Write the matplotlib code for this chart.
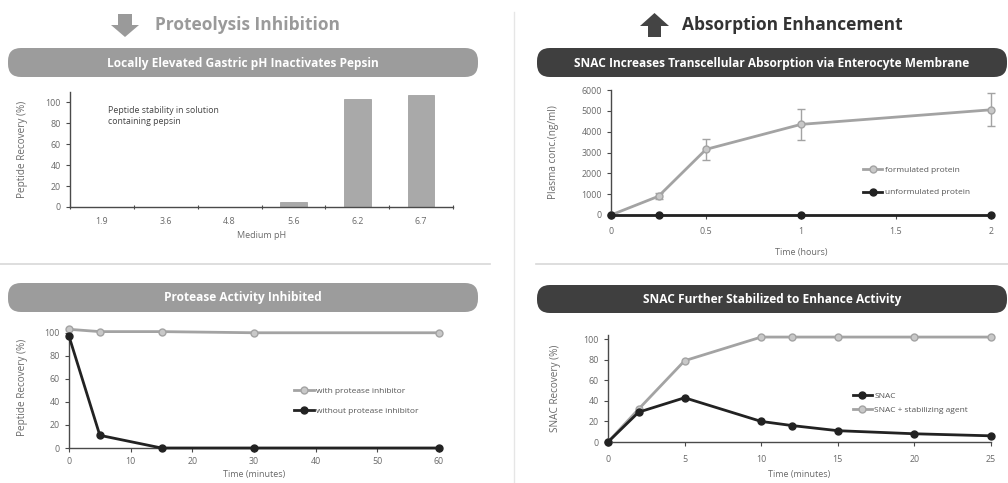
import matplotlib
matplotlib.use("Agg")
import matplotlib.pyplot as plt
from matplotlib.patches import FancyBboxPatch, Polygon
import numpy as np

plt.rcParams['font.family'] = ['Open Sans', 'DejaVu Sans']

# ---------------- data ----------------
ph_labels = ["1.9", "3.6", "4.8", "5.6", "6.2", "6.7"]
ph_recovery = [0, 0, 0, 5, 103, 107]

prot_time = [0, 5, 15, 30, 60]
with_inhib = [103, 101, 101, 100, 100]
without_inhib = [97, 11, 0, 0, 0]

abs_time = [0, 0.25, 0.5, 1, 2]
formulated = [0, 900, 3150, 4350, 5050]
formulated_err = [0, 150, 500, 750, 800]
unform_time = [0, 0.25, 1, 2]
unformulated = [0, 0, 0, 0]

snac_time = [0, 2, 5, 10, 12, 15, 20, 25]
snac = [0, 29, 43, 20, 16, 11, 8, 6]
snac_stab = [0, 32, 79, 102, 102, 102, 102, 102]

# ---------------- styling ----------------
W, H = 1008, 483
GREY = "#a3a3a3"
GREY_FILL = "#c8c8c8"
DARK = "#222222"
BANNER_LIGHT = "#9c9c9c"
BANNER_DARK = "#3f3f3f"
TXT = "#6a6a6a"

fig = plt.figure(figsize=(W / 100, H / 100), dpi=100)
fig.patch.set_facecolor("white")

# overlay in pixel coordinates for decorations
ov = fig.add_axes([0, 0, 1, 1], zorder=-5)
ov.set_xlim(0, W)
ov.set_ylim(H, 0)
ov.axis("off")


def ax_at(l, r, t, b):
    return fig.add_axes([l / W, 1 - b / H, (r - l) / W, (b - t) / H])


def banner(l, r, t, b, text, color):
    p = FancyBboxPatch((l, t), r - l, b - t,
                       boxstyle="round,pad=0,rounding_size=13",
                       facecolor=color, edgecolor="none")
    ov.add_patch(p)
    ov.text((l + r) / 2, (t + b) / 2 + 0.5, text, color="white",
            fontsize=8.6, fontweight="bold", ha="center", va="center")


def style(ax):
    for s in ["top", "right"]:
        ax.spines[s].set_visible(False)
    for s in ["left", "bottom"]:
        ax.spines[s].set_color("#4a4a4a")
        ax.spines[s].set_linewidth(1.0)
    ax.tick_params(axis="both", labelsize=6.4, colors="#4a4a4a",
                   labelcolor=TXT, length=3, width=0.8, direction="out")
    ax.set_facecolor("none")


# ---------------- decorations ----------------
ov.plot([0, 490], [264, 264], color="#d8d8d8", lw=1.2)
ov.plot([536, 1008], [264, 264], color="#d8d8d8", lw=1.2)
ov.plot([514, 514], [12, 483], color="#e6e6e6", lw=1.0)

down = [(118, 14), (132, 14), (132, 25), (139, 25), (125, 37), (111, 25), (118, 25)]
ov.add_patch(Polygon(down, closed=True, facecolor="#9a9a9a", edgecolor="none"))
up = [(648, 37), (661, 37), (661, 26), (669, 26), (654.5, 13), (640, 26), (648, 26)]
ov.add_patch(Polygon(up, closed=True, facecolor="#444444", edgecolor="none"))

ov.text(155, 25, "Proteolysis Inhibition", color="#9a9a9a",
        fontsize=12.5, fontweight="bold", ha="left", va="center")
ov.text(682, 25, "Absorption Enhancement", color="#333333",
        fontsize=12.5, fontweight="bold", ha="left", va="center")

banner(8, 478, 48, 77, "Locally Elevated Gastric pH Inactivates Pepsin", BANNER_LIGHT)
banner(537, 1007, 48, 77, "SNAC Increases Transcellular Absorption via Enterocyte Membrane", BANNER_DARK)
banner(8, 478, 283, 312, "Protease Activity Inhibited", BANNER_LIGHT)
banner(537, 1007, 285, 313, "SNAC Further Stabilized to Enhance Activity", BANNER_DARK)

# ---------------- top-left: bar chart ----------------
ax1 = ax_at(70, 453, 92, 207)
style(ax1)
xpos = np.arange(len(ph_labels))
ax1.bar(xpos, ph_recovery, width=0.42, color="#a9a9a9", edgecolor="#999999", linewidth=0.5)
ax1.set_xlim(-0.5, len(ph_labels) - 0.5)
ax1.set_ylim(0, 110)
ax1.set_yticks([0, 20, 40, 60, 80, 100])
ax1.set_xticks(xpos)
ax1.set_xticklabels(ph_labels)
ax1.tick_params(axis="x", length=0, pad=7)
ax1.set_xticks(np.arange(-0.5, len(ph_labels)), minor=True)
ax1.tick_params(axis="x", which="minor", length=3, width=0.8, colors="#4a4a4a", direction="inout")
ax1.set_xlabel("Medium pH", fontsize=6.5, color=TXT, labelpad=4)
ax1.set_ylabel("Peptide Recovery (%)", fontsize=7.2, color=TXT, labelpad=13)
ax1.text(0.1, 0.88, "Peptide stability in solution\ncontaining pepsin", transform=ax1.transAxes,
         fontsize=6.3, color="#444444", ha="left", va="top", linespacing=1.3)

# ---------------- bottom-left: protease ----------------
ax2 = ax_at(69, 439, 327, 448)
style(ax2)
ax2.plot(prot_time, with_inhib, color=GREY, lw=2.0, marker="o", ms=5,
         mfc=GREY_FILL, mec=GREY, mew=1.0, clip_on=False, zorder=3,
         label="with protease inhibitor")
ax2.plot(prot_time, without_inhib, color=DARK, lw=2.0, marker="o", ms=5,
         mfc=DARK, mec=DARK, clip_on=False, zorder=4,
         label="without protease inhibitor")
ax2.set_xlim(0, 60)
ax2.set_ylim(0, 105)
ax2.set_xticks([0, 10, 20, 30, 40, 50, 60])
ax2.set_yticks([0, 20, 40, 60, 80, 100])
ax2.set_xlabel("Time (minutes)", fontsize=6.5, color=TXT, labelpad=3)
ax2.set_ylabel("Peptide Recovery (%)", fontsize=7.2, color=TXT, labelpad=12)
ax2.legend(loc="upper left", bbox_to_anchor=(0.6, 0.53), frameon=False, fontsize=6,
           labelcolor="#555555", handlelength=2.3, handletextpad=0.3, labelspacing=1.4,
           borderaxespad=0)

# ---------------- top-right: absorption ----------------
ax3 = ax_at(611, 991, 90, 215)
style(ax3)
eb = ax3.errorbar(abs_time, formulated, yerr=formulated_err, color=GREY, lw=2.0,
                  marker="o", ms=5, mfc=GREY_FILL, mec=GREY, mew=1.0, ecolor=GREY,
                  elinewidth=1.0, capsize=3, capthick=1.0, clip_on=False, zorder=3)
un, = ax3.plot(unform_time, unformulated, color=DARK, lw=2.0, marker="o", ms=5,
               mfc=DARK, mec=DARK, clip_on=False, zorder=4)
ax3.set_xlim(0, 2)
ax3.set_ylim(0, 6000)
ax3.set_xticks([0, 0.5, 1, 1.5, 2])
ax3.set_xticklabels(["0", "0.5", "1", "1.5", "2"])
ax3.set_yticks([0, 1000, 2000, 3000, 4000, 5000, 6000])
ax3.tick_params(axis="x", pad=6)
ax3.set_xlabel("Time (hours)", fontsize=6.5, color=TXT, labelpad=8)
ax3.set_ylabel("Plasma conc.(ng/ml)", fontsize=7.2, color=TXT, labelpad=16)
ax3.legend([eb.lines[0], un], ["formulated protein", "unformulated protein"],
           loc="upper left", bbox_to_anchor=(0.655, 0.42), frameon=False, fontsize=6,
           labelcolor="#555555", handlelength=2.3, handletextpad=0.3, labelspacing=1.8,
           borderaxespad=0)

# ---------------- bottom-right: SNAC ----------------
ax4 = ax_at(608, 991, 335, 442)
style(ax4)
l1, = ax4.plot(snac_time, snac_stab, color=GREY, lw=2.0, marker="o", ms=5,
               mfc=GREY_FILL, mec=GREY, mew=1.0, clip_on=False, zorder=3)
l2, = ax4.plot(snac_time, snac, color=DARK, lw=2.0, marker="o", ms=5,
               mfc=DARK, mec=DARK, clip_on=False, zorder=4)
ax4.set_xlim(0, 25)
ax4.set_ylim(0, 104)
ax4.set_xticks([0, 5, 10, 15, 20, 25])
ax4.set_yticks([0, 20, 40, 60, 80, 100])
ax4.tick_params(axis="x", pad=6)
ax4.set_xlabel("Time (minutes)", fontsize=6.5, color=TXT, labelpad=5)
ax4.set_ylabel("SNAC Recovery (%)", fontsize=7.2, color=TXT, labelpad=16)
ax4.legend([l2, l1], ["SNAC", "SNAC + stabilizing agent"], loc="upper left",
           bbox_to_anchor=(0.63, 0.5), frameon=False, fontsize=6, labelcolor="#555555",
           handlelength=2.3, handletextpad=0.3, labelspacing=0.8, borderaxespad=0)

fig.savefig("out.png", dpi=100, facecolor="white")
